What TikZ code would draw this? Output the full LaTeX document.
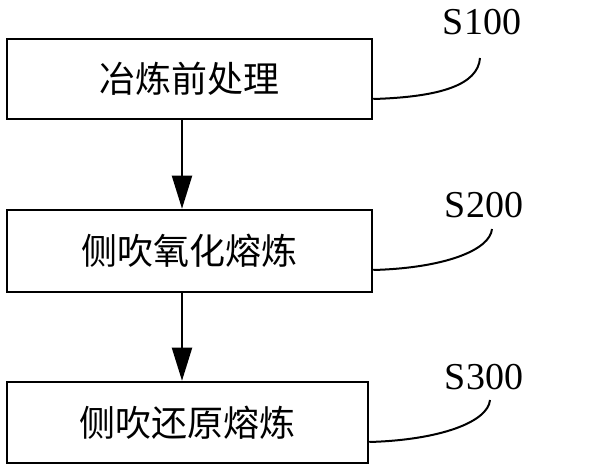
\documentclass[tikz,border=0pt]{standalone}
\usepackage{fontspec}
\setmainfont{Liberation Serif}
\newfontfamily\cjk{Noto Sans CJK SC}
\usetikzlibrary{arrows.meta}

\begin{document}
\begin{tikzpicture}[x=1pt,y=-1pt,
	stepbox/.style={draw,line width=2.5pt,minimum width=365pt,minimum height=80pt,inner sep=0pt,font=\cjk\fontsize{36}{36}\selectfont},
	lead/.style={line width=2pt},
	flow/.style={line width=2pt,-{Triangle[length=33pt,width=20pt]}},
	tag/.style={font=\fontsize{38}{38}\selectfont,inner sep=0pt}]
	\useasboundingbox (0,0) rectangle (600,470);
	\node[stepbox] (pre) at (189.5,79) {冶炼前处理};
	\node[stepbox,minimum height=82pt] (oxi) at (189.5,251) {侧吹氧化熔炼};
	\node[stepbox,minimum width=361pt,minimum height=81pt] (red) at (187.5,422.5) {侧吹还原熔炼};
	\node[tag] (s1) at (482,22) {S100};
	\node[tag] (s2) at (484,205) {S200};
	\node[tag] (s3) at (484,377) {S300};
	\coordinate (e1) at (480,58);
	\coordinate (e2) at (492,229);
	\coordinate (e3) at (490,400);
	\draw[flow] ([xshift=-7.5pt]pre.south) -- ([xshift=-7.5pt]oxi.north);
	\draw[flow] ([xshift=-7.5pt]oxi.south) -- ([xshift=-5.5pt]red.north);
	\draw[lead] ([yshift=-20pt]pre.east) .. controls (440,97) and (478,85) .. (e1);
	\draw[lead] ([yshift=-19pt]oxi.east) .. controls (445,268) and (490,250) .. (e2);
	\draw[lead] ([yshift=-19.5pt]red.east) .. controls (440,440) and (488,422) .. (e3);
\end{tikzpicture}
\end{document}
